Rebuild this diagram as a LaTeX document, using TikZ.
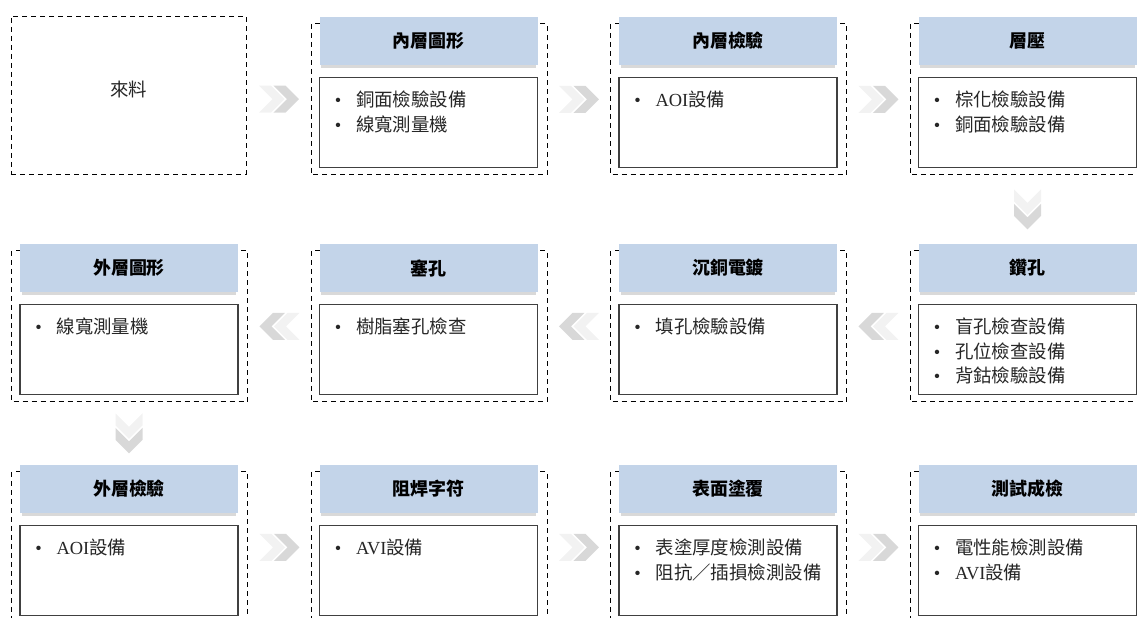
\documentclass[tikz,border=0pt]{standalone}
\usepackage{fontspec}
\setmainfont{Noto Sans CJK TC}
\newfontfamily\latfont{Liberation Serif}
\newcommand{\lat}[1]{{\latfont #1}}
\usetikzlibrary{positioning,calc,shadows,backgrounds}
\definecolor{ttlblue}{RGB}{195,212,233}
\definecolor{chevlight}{RGB}{242,242,242}
\definecolor{chevdark}{RGB}{216,216,216}
\definecolor{boxline}{RGB}{64,64,64}
\tikzset{
  ttl/.style={fill=ttlblue, minimum width=218bp, minimum height=48bp, inner sep=0,
    font=\fontsize{18}{20}\selectfont\bfseries,
    drop shadow={shadow xshift=0bp, shadow yshift=-3bp, opacity=0.3, shadow scale=0.985}},
  content/.style={draw=boxline, line width=1.2bp, minimum width=218bp, minimum height=90bp, inner sep=0},
  frame/.style={draw=black, line width=0.9bp, dash pattern=on 5bp off 4bp},
  item/.style={anchor=west, inner sep=0, font=\fontsize{18.5}{20}\selectfont, text=black!85}
}
% bullet lines inside a box
\newcommand{\items}[2]{\foreach \txt [count=\k from 0] in {#2}
  {\node[item] (#1i\k) at ($(#1.north west)+(10.5,23+24.5*\k)$) {\makebox[17bp]{\latfont •}\hspace{9.5bp}\txt};}}
% one chevron, pointing east before rotation
\newcommand{\chevpath}{(-12.75,-13.5) -- (-0.75,-13.5) -- (12.75,0) -- (-0.75,13.5) -- (-12.75,13.5) -- (0.75,0) -- cycle}
% double chevron between two stages
\newcommand{\chev}[2]{%
  \fill[chevlight, shift={(#1)}, rotate=#2, xshift=-7.25bp] \chevpath;
  \fill[chevdark, shift={(#1)}, rotate=#2, xshift=7.25bp] \chevpath;}

\begin{document}
\begin{tikzpicture}[x=1bp, y=-1bp]
\useasboundingbox (0,0) rectangle (1137,618);

% row 1
\node[frame, minimum width=235bp, minimum height=158bp] (m1) at (128.5,95) {};
\node[font=\fontsize{18.5}{20}\selectfont, text=black!85] (l1) at ($(m1)+(0,-6)$) {來料};
\node[ttl] (t2) at (428.5,41) {內層圖形};
\node[content, below=11.5bp of t2] (c2) {};
\node[ttl] (t3) at (728,41) {內層檢驗};
\node[content, below=11.5bp of t3] (c3) {};
\node[ttl] (t4) at (1027.5,41) {層壓};
\node[content, below=11.5bp of t4] (c4) {};

% row 2
\node[ttl] (t5) at (1027.5,268) {鑽孔};
\node[content, below=11.5bp of t5] (c5) {};
\node[ttl] (t6) at (728,268) {沉銅電鍍};
\node[content, below=11.5bp of t6] (c6) {};
\node[ttl] (t7) at (428.5,268) {塞孔};
\node[content, below=11.5bp of t7] (c7) {};
\node[ttl] (t8) at (129,268) {外層圖形};
\node[content, below=11.5bp of t8] (c8) {};

% row 3
\node[ttl] (t9) at (129,489) {外層檢驗};
\node[content, below=11.5bp of t9] (c9) {};
\node[ttl] (t10) at (428.5,489) {阻焊字符};
\node[content, below=11.5bp of t10] (c10) {};
\node[ttl] (t11) at (728,489) {表面塗覆};
\node[content, below=11.5bp of t11] (c11) {};
\node[ttl] (t12) at (1027.5,489) {測試成檢};
\node[content, below=11.5bp of t12] (c12) {};

\items{c2}{銅面檢驗設備,線寬測量機}
\items{c3}{\lat{AOI}設備}
\items{c4}{棕化檢驗設備,銅面檢驗設備}
\items{c5}{盲孔檢查設備,孔位檢查設備,背鈷檢驗設備}
\items{c6}{填孔檢驗設備}
\items{c7}{樹脂塞孔檢查}
\items{c8}{線寬測量機}
\items{c9}{\lat{AOI}設備}
\items{c10}{\lat{AVI}設備}
\items{c11}{表塗厚度檢測設備,阻抗／插損檢測設備}
\items{c12}{電性能檢測設備,\lat{AVI}設備}

% dashed frames
\coordinate (a1) at (m1.north west);
\coordinate (b1) at (m1.south east);
\begin{pgfonlayer}{background}
\foreach \n in {2,...,12} {
  \coordinate (a\n) at ($(t\n.north west)+(-8,7)$);
  \coordinate (b\n) at ($(c\n.south east)+(9,7)$);
  \draw[frame] (a\n) rectangle (b\n);
}
\end{pgfonlayer}

% chevrons
\coordinate (k12) at ($(b1)!0.5!(a2)$);
\coordinate (k23) at ($(b2)!0.5!(a3)$);
\coordinate (k34) at ($(b3)!0.5!(a4)$);
\coordinate (k45) at ($(t5.north)!0.5!(t5.north|-b4)$);
\coordinate (k56) at ($(b6)!0.5!(a5)$);
\coordinate (k67) at ($(b7)!0.5!(a6)$);
\coordinate (k78) at ($(b8)!0.5!(a7)$);
\coordinate (k89) at ($(t9.north)!0.5!(t9.north|-b8)$);
\coordinate (k910) at ($(b9)!0.5!(a10)$);
\coordinate (k1011) at ($(b10)!0.5!(a11)$);
\coordinate (k1112) at ($(b11)!0.5!(a12)$);
\chev{k12}{0}
\chev{k23}{0}
\chev{k34}{0}
\chev{k45}{-90}
\chev{k56}{180}
\chev{k67}{180}
\chev{k78}{180}
\chev{k89}{-90}
\chev{k910}{0}
\chev{k1011}{0}
\chev{k1112}{0}
\end{tikzpicture}
\end{document}
